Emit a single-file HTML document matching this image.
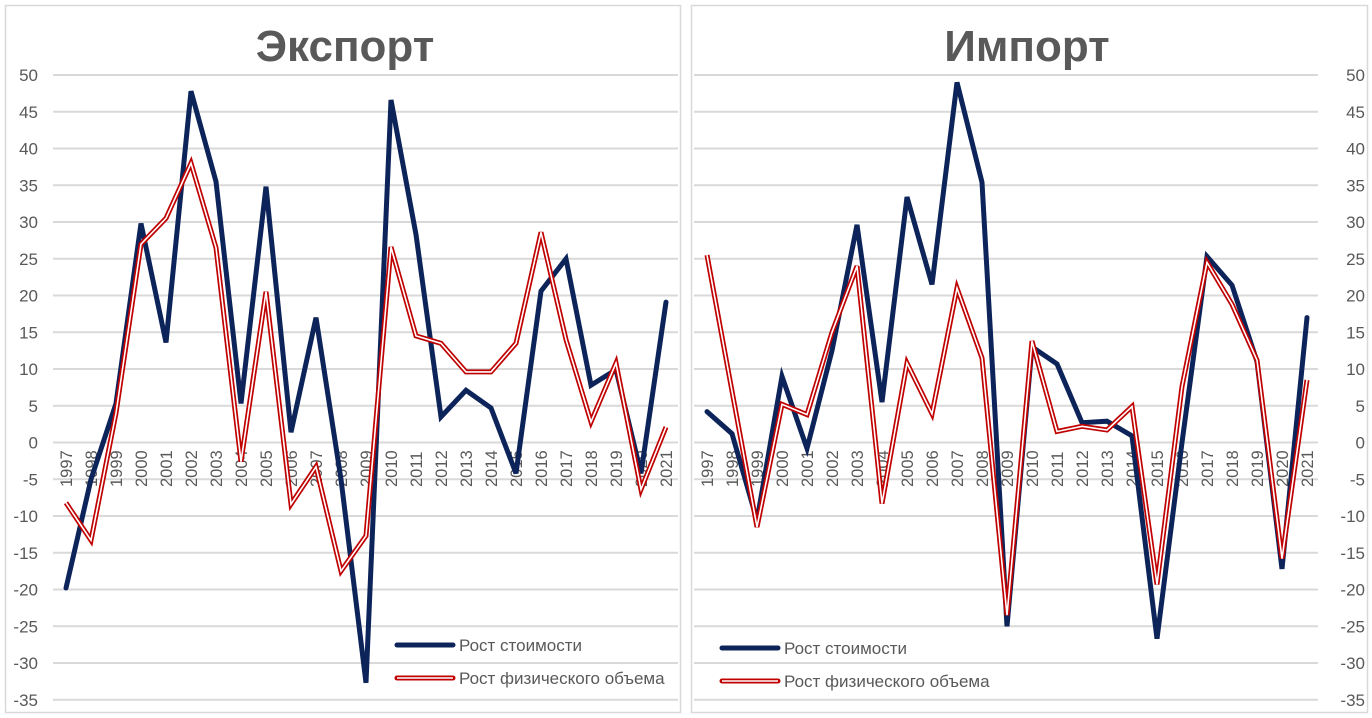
<!DOCTYPE html>
<html><head><meta charset="utf-8">
<style>
html,body{margin:0;padding:0;background:#fff;}
svg{display:block;font-family:"Liberation Sans","DejaVu Sans",sans-serif;}
</style></head>
<body>
<svg id="s" width="1372" height="718" xmlns="http://www.w3.org/2000/svg">
<rect x="5.5" y="5.5" width="675" height="707" fill="#fff" stroke="#d9d9d9" stroke-width="1.5"/>
<rect x="691.5" y="5.5" width="676" height="707" fill="#fff" stroke="#d9d9d9" stroke-width="1.5"/>
<text x="345" y="61" text-anchor="middle" font-size="44" font-weight="bold" fill="#595959">Экспорт</text>
<text x="1027" y="61" text-anchor="middle" font-size="44" font-weight="bold" fill="#595959">Импорт</text>
<g id="g"></g>
</svg>
<script>
var NS="http://www.w3.org/2000/svg",g=document.getElementById("g");
function el(t,a,txt){var e=document.createElementNS(NS,t);for(var k in a)e.setAttribute(k,a[k]);if(txt!=null)e.textContent=txt;g.appendChild(e);return e;}
function Y(v){return 442.5-v*7.35;}
var eB=[-19.8,-5,5.3,29.8,13.6,47.8,35.5,5.3,34.8,1.4,17,-5,-32.7,46.6,28.3,3.5,7.1,4.7,-4.2,20.6,25,7.8,9.9,-4.2,19.1];
var eR=[-8.2,-13.3,4,27,30.5,38,26.5,-2.6,20.5,-8.4,-3.3,-17.5,-12.7,26.6,14.5,13.5,9.6,9.6,13.5,28.6,14,2.8,10.8,-6.4,2.1];
var iB=[4.2,1.2,-10.6,9,-0.8,12.5,29.6,5.5,33.4,21.5,49,35.4,-25,13,10.7,2.7,2.9,0.9,-26.7,0,25.3,21.4,11,-17.2,17];
var iR=[25.5,7,-11.5,5.2,3.8,15,24,-8.3,10.8,3.9,21,11.5,-23.5,13.8,1.5,2.2,1.7,4.9,-19.3,7.6,24.5,18.8,11.2,-15.8,8.5];
function panel(x0,x1,xs,B,R,labX,anchor,legX,legY){
 for(var v=50;v>=-35;v-=5){
  el("line",{x1:x0,x2:x1,y1:Y(v),y2:Y(v),stroke:"#d9d9d9","stroke-width":2});
  el("text",{x:labX,y:Y(v)+6,"text-anchor":anchor,"font-size":17,fill:"#595959"},v);
 }
 for(var i=0;i<25;i++){
  var x=xs+i*25;
  el("text",{x:0,y:0,transform:"translate("+(x+6)+",487) rotate(-90)","font-size":16.5,fill:"#595959"},1997+i);
 }
 function pts(a){return a.map(function(v,i){return (xs+i*25)+","+Y(v).toFixed(1);}).join(" ");}
 el("polyline",{points:pts(B),fill:"none",stroke:"#0c2459","stroke-width":5,"stroke-linejoin":"miter","stroke-linecap":"round"});
 el("polyline",{points:pts(R),fill:"none",stroke:"#c00000","stroke-width":5,"stroke-linejoin":"miter"});
 el("polyline",{points:pts(R),fill:"none",stroke:"#fff","stroke-width":1.6,"stroke-linejoin":"miter"});
 el("line",{x1:legX,x2:legX+56,y1:legY,y2:legY,stroke:"#0c2459","stroke-width":5,"stroke-linecap":"round"});
 el("text",{x:legX+62,y:legY+6,"font-size":17,fill:"#595959"},"Рост стоимости");
 el("line",{x1:legX,x2:legX+56,y1:legY+33,y2:legY+33,stroke:"#c00000","stroke-width":5,"stroke-linecap":"round"});
 el("line",{x1:legX,x2:legX+56,y1:legY+33,y2:legY+33,stroke:"#fff","stroke-width":1.6});
 el("text",{x:legX+62,y:legY+39,"font-size":17,fill:"#595959"},"Рост физического объема");
}
panel(53,678,66,eB,eR,38,"end",397,645);
panel(694,1318,707,iB,iR,1365,"end",722,648);
</script>
</body></html>
